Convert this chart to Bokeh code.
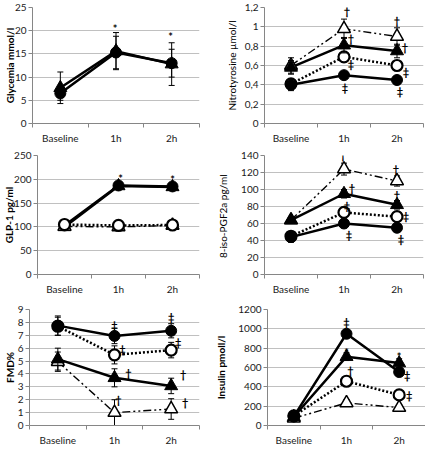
from bokeh.plotting import figure
from bokeh.layouts import column, row
from bokeh.models import FixedTicker, Range1d
from bokeh.embed import file_html
from bokeh.resources import INLINE
from bokeh.core.properties import value

# ---------------- data ----------------
times = ["Baseline", "1h", "2h"]

# Glycemia mmol/l
glyc_fc = [6.5, 15.3, 13.0]
glyc_fc_err = [1.5, 3.5, 3.0]
glyc_ft = [7.7, 15.6, 12.8]
glyc_ft_err = [3.4, 4.0, 4.6]
glyc_ft_sig = ["", "*", "*"]

# Nitrotyrosine umol/l
nitro_ot = [0.60, 0.98, 0.90]
nitro_ot_err = [0.08, 0.10, 0.09]
nitro_ot_sig = ["", "\u2020", "\u2020"]
nitro_ft = [0.58, 0.81, 0.75]
nitro_ft_err = [0.07, 0.08, 0.07]
nitro_ft_sig = ["", "\u2020", "\u2020"]
nitro_oc = [0.41, 0.69, 0.60]
nitro_oc_err = [0.05, 0.05, 0.05]
nitro_oc_sig = ["", "\u2021", "\u2021"]
nitro_fc = [0.40, 0.50, 0.45]
nitro_fc_err = [0.06, 0.03, 0.04]
nitro_fc_sig = ["", "\u2021", "\u2021"]
nitro_ticks = [0, 0.2, 0.4, 0.6, 0.8, 1.0, 1.2]
nitro_tick_labels = ["0", "0,2", "0,4", "0,6", "0,8", "1", "1,2"]

# GLP-1 pg/ml
glp_fc = [103, 187, 185]
glp_fc_err = [4, 5, 5]
glp_ft = [100, 186, 184]
glp_ft_err = [5, 7, 7]
glp_ft_sig = ["", "*", "*"]
glp_oc = [105, 103, 104]
glp_oc_err = [3, 4, 3]
glp_ot = [101, 100, 103]
glp_ot_err = [3, 5, 4]

# 8-iso-PGF2a pg/ml
iso_ot = [64, 124, 110]
iso_ot_err = [4, 7, 6]
iso_ot_sig = ["", "\u2020", "\u2020"]
iso_ft = [64, 95, 82]
iso_ft_err = [4, 5, 5]
iso_ft_sig = ["", "\u2020", "\u2020"]
iso_oc = [45, 73, 68]
iso_oc_err = [5, 6, 5]
iso_oc_sig = ["", "\u2021", "\u2021"]
iso_fc = [44, 60, 55]
iso_fc_err = [6, 5, 4]
iso_fc_sig = ["", "\u2021", "\u2021"]

# FMD%
fmd_fc = [7.75, 6.95, 7.35]
fmd_fc_err = [0.75, 0.6, 0.55]
fmd_fc_sig = ["", "\u2021", "\u2021"]
fmd_oc = [7.7, 5.48, 5.85]
fmd_oc_err = [0.7, 0.7, 0.6]
fmd_oc_sig = ["", "\u2021", "\u2021"]
fmd_ft = [5.15, 3.7, 3.07]
fmd_ft_err = [0.85, 0.7, 0.6]
fmd_ft_sig = ["", "\u2020", "\u2020"]
fmd_ot = [4.95, 1.0, 1.28]
fmd_ot_err = [0.75, 1.0, 0.8]
fmd_ot_sig = ["", "\u2020", "\u2020"]

# Insulin pmol/l
ins_fc = [95, 949, 553]
ins_fc_err = [25, 30, 30]
ins_fc_sig = ["", "\u2021", "\u2021"]
ins_ft = [90, 712, 646]
ins_ft_err = [30, 40, 45]
ins_ft_sig = ["", "*", "*"]
ins_oc = [100, 458, 316]
ins_oc_err = [20, 35, 40]
ins_oc_sig = ["", "\u2020", "\u2021"]
ins_ot = [75, 234, 185]
ins_ot_err = [15, 35, 30]

# ---------------- styles ----------------
FONT = "Lato"
SYMFONT = "Lato"
STYLE = {
    "fc": dict(marker="circle", size=11, fill="black", dash="solid", lw=2.5, mlw=1),
    "oc": dict(marker="circle", size=11, fill="white", dash="2 2", lw=2.5, mlw=2.2),
    "ft": dict(marker="triangle", size=13, fill="black", dash="solid", lw=2.5, mlw=1),
    "ot": dict(marker="triangle", size=13, fill="white", dash="8 3 2 3 2 3", lw=1.4, mlw=1.5),
}
XS = [0.5, 1.5, 2.5]


def make_panel(ylabel, bold, ymax, ystep, series, w, h, borders, lab_std,
               tick_vals=None, tick_labels=None):
    left, right, top, bottom = borders
    p = figure(width=w, height=h, output_backend="svg", toolbar_location=None,
               x_range=Range1d(0, 3), y_range=Range1d(0, ymax),
               min_border_left=left, min_border_right=right,
               min_border_top=top, min_border_bottom=bottom)
    p.outline_line_color = None
    p.xgrid.visible = False
    p.ygrid.grid_line_color = "#c0c0c0"
    p.ygrid.grid_line_width = 1

    if tick_vals is None:
        n = int(round(ymax / ystep))
        tick_vals = [i * ystep for i in range(n + 1)]
    p.yaxis.ticker = FixedTicker(ticks=tick_vals)
    if tick_labels is not None:
        p.yaxis.major_label_overrides = dict(zip(tick_vals, tick_labels))
    p.xaxis.ticker = FixedTicker(ticks=XS, minor_ticks=[0, 1, 2, 3])
    p.xaxis.major_label_overrides = dict(zip(XS, times))

    for ax in (p.xaxis[0], p.yaxis[0]):
        ax.axis_line_color = "#868686"
        ax.major_tick_line_color = "#868686"
        ax.minor_tick_line_color = "#868686"
        ax.major_label_text_font = FONT
        ax.major_label_text_font_size = "10px"
        ax.major_label_text_color = "#1a1a1a"
        ax.major_tick_in = 0
        ax.minor_tick_in = 0
    p.xaxis.major_tick_out = 0
    p.xaxis.minor_tick_out = 4
    p.xaxis.major_label_standoff = 4
    p.yaxis.minor_tick_out = 0
    p.yaxis.major_tick_out = 4
    p.yaxis.major_label_standoff = 2
    p.yaxis.axis_label = ylabel
    p.yaxis.axis_label_text_font = FONT
    p.yaxis.axis_label_text_font_size = "10px"
    p.yaxis.axis_label_text_font_style = "bold" if bold else "normal"
    p.yaxis.axis_label_text_color = "#000000"
    p.yaxis.axis_label_standoff = lab_std

    for key, vals, err, sig, offs in series:
        st = STYLE[key]
        p.line(XS, vals, line_color="black", line_width=st["lw"], line_dash=st["dash"])
    for key, vals, err, sig, offs in series:
        st = STYLE[key]
        lo = [v - e for v, e in zip(vals, err)]
        hi = [v + e for v, e in zip(vals, err)]
        p.segment(x0=XS, y0=lo, x1=XS, y1=hi, line_color="black", line_width=1)
        p.scatter(XS, lo, marker="dash", size=6, line_color="black", line_width=1)
        p.scatter(XS, hi, marker="dash", size=6, line_color="black", line_width=1)
        p.scatter(XS, vals, marker=st["marker"], size=st["size"], fill_color=st["fill"],
                  line_color="black", line_width=st["mlw"])
    for key, vals, err, sig, offs in series:
        if sig is None:
            continue
        for i in range(3):
            if not sig[i]:
                continue
            dx, dy = offs[i]
            is_star = sig[i] == "*"
            p.text([XS[i]], [vals[i]], text=[sig[i]], x_offset=dx,
                   y_offset=-dy + (4 if is_star else 0),
                   angle=0.002,
                   text_align="center", text_baseline="middle",
                   text_font=value(FONT if is_star else SYMFONT),
                   text_font_style="bold",
                   text_font_size="11px", text_color="#000000")
    return p


p1 = make_panel("Glycemia mmol/l", True, 25, 5, [
    ("ft", glyc_ft, glyc_ft_err, glyc_ft_sig, [None, (-1, 27), (-1, 32)]),
    ("fc", glyc_fc, glyc_fc_err, None, None),
], 212, 146, (31, 13, 7, 18), -4)

p2 = make_panel("Nitrotyrosine \u00b5mol/l", False, 1.2, 0.2, [
    ("ot", nitro_ot, nitro_ot_err, nitro_ot_sig, [None, (3, 18), (0, 16)]),
    ("oc", nitro_oc, nitro_oc_err, nitro_oc_sig, [None, (7, -7), (9, -6)]),
    ("ft", nitro_ft, nitro_ft_err, nitro_ft_sig, [None, (7, 7), (8, 4)]),
    ("fc", nitro_fc, nitro_fc_err, nitro_fc_sig, [None, (1, -12), (3, -11)]),
], 213, 146, (52, 2, 7, 18), 4, nitro_ticks, nitro_tick_labels)

p3 = make_panel("GLP-1 pg/ml", True, 250, 50, [
    ("fc", glp_fc, glp_fc_err, None, None),
    ("ft", glp_ft, glp_ft_err, glp_ft_sig, [None, (2, 12), (0, 12)]),
    ("ot", glp_ot, glp_ot_err, None, None),
    ("oc", glp_oc, glp_oc_err, None, None),
], 212, 151, (36, 13, 9, 18), -4)

p4 = make_panel("8-iso-PGF2a  pg/ml", False, 140, 20, [
    ("ot", iso_ot, iso_ot_err, iso_ot_sig, [None, (-1, 14), (-1, 12)]),
    ("oc", iso_oc, iso_oc_err, iso_oc_sig, [None, (3, 7), (9, 1)]),
    ("ft", iso_ft, iso_ft_err, iso_ft_sig, [None, (8, 6), (0, 10)]),
    ("fc", iso_fc, iso_fc_err, iso_fc_sig, [None, (5, -11), (4, -11)]),
], 213, 151, (52, 2, 8, 18), 9)

p5 = make_panel("FMD%", True, 9, 1, [
    ("ot", fmd_ot, fmd_ot_err, fmd_ot_sig, [None, (4, 13), (14, 7)]),
    ("oc", fmd_oc, fmd_oc_err, fmd_oc_sig, [None, (8, 6), (7, 8)]),
    ("ft", fmd_ft, fmd_ft_err, fmd_ft_sig, [None, (14, 5), (12, 12)]),
    ("fc", fmd_fc, fmd_fc_err, fmd_fc_sig, [None, (0, 11), (0, 14)]),
], 212, 151, (27, 13, 7, 18), -1)

p6 = make_panel("Insulin pmoll/l", True, 1200, 200, [
    ("ot", ins_ot, ins_ot_err, None, None),
    ("oc", ins_oc, ins_oc_err, ins_oc_sig, [None, (4, 11), (10, 0)]),
    ("ft", ins_ft, ins_ft_err, ins_ft_sig, [None, (0, 9), (0, 11)]),
    ("fc", ins_fc, ins_fc_err, ins_fc_sig, [None, (0, 12), (8, -3)]),
], 213, 151, (55, 0, 12, 18), 8)

layout = column(row(p1, p2), row(p3, p4), row(p5, p6))
open("out.html", "w").write(file_html(layout, INLINE))
